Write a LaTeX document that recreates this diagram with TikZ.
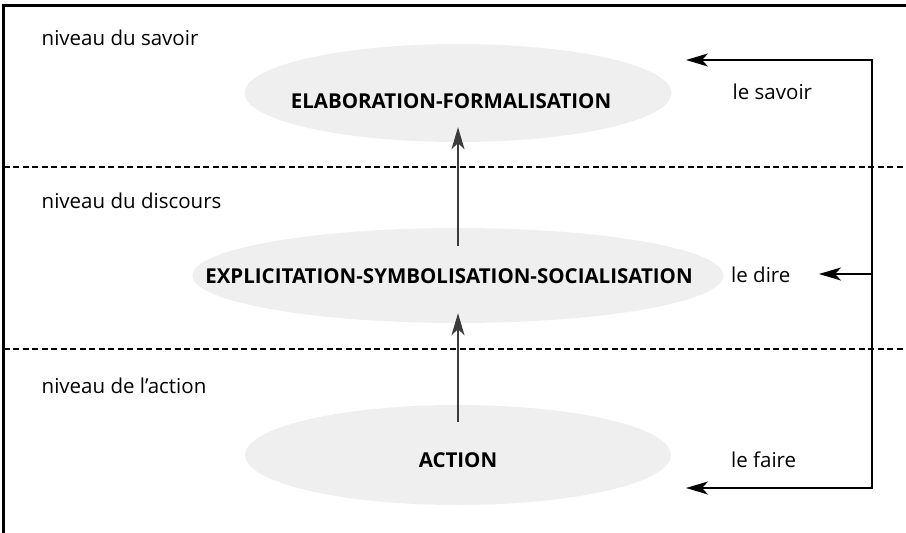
\documentclass[tikz,border=0pt]{standalone}
\usepackage{fontspec}
\setmainfont{Open Sans}
\usetikzlibrary{arrows.meta,shapes.geometric}
\definecolor{blobgray}{RGB}{239,239,239}
\definecolor{flowgray}{RGB}{60,60,60}
\tikzset{
  >={Stealth[length=22pt,width=13pt,inset=6pt]},
  blob/.style={ellipse,fill=blobgray,inner sep=0pt},
  title/.style={font=\fontsize{20.5}{24}\selectfont\bfseries},
  level/.style={font=\fontsize{20.5}{24}\selectfont,anchor=base west,inner sep=0pt},
  flow/.style={->,line width=1.4pt,flowgray},
  link/.style={line width=2pt},
  sep/.style={dash pattern=on 6pt off 3.5pt,line width=1.2pt},
}

\begin{document}
\begin{tikzpicture}[x=1pt,y=-1pt]
    \useasboundingbox (0,0) rectangle (906,533);
    % frame and level separators
    \draw[line width=2.2pt] (3.5,533) -- (3.5,5.5) -- (906,5.5);
    \draw[sep] (3.5,167) -- (906,167);
    \draw[sep] (3.5,349) -- (906,349);
    % ellipses
    \node[blob,minimum width=427pt,minimum height=98pt] (elab) at (458,93) {};
    \node[blob,minimum width=531pt,minimum height=95pt] (expl) at (458,275.5) {};
    \node[blob,minimum width=426pt,minimum height=100pt] (act) at (458,455) {};
    \node[title] (elabtext) at (451,101) {ELABORATION-FORMALISATION};
    \node[title] (expltext) at (449,276) {EXPLICITATION-SYMBOLISATION-SOCIALISATION};
    \node[title] (acttext) at (458,460) {ACTION};
    % levels
    \node[level] (lvsavoir) at (41.5,45) {niveau du savoir};
    \node[level] (lvdiscours) at (41.5,208) {niveau du discours};
    \node[level] (lvaction) at (41.5,393) {niveau de l’action};
    \node[level] (savoir) at (732.5,99) {le savoir};
    \node[level] (dire) at (731,282) {le dire};
    \node[level] (faire) at (731,467) {le faire};
    % upward flow
    \draw[flow] ([yshift=-17pt]act.north) -- ([yshift=10pt]expl.south);
    \draw[flow] ([yshift=-18pt]expl.north) -- ([yshift=15pt]elab.south);
    % feedback
    \coordinate (tipsavoir) at (686,60);
    \coordinate (tipdire) at (819,274);
    \coordinate (tipfaire) at (686,488);
    \coordinate (spinetop) at (872,60);
    \coordinate (spinemid) at (872,274);
    \coordinate (spinebot) at (872,488);
    \draw[link,<->] (tipsavoir) -- (spinetop) -- (spinebot) -- (tipfaire);
    \draw[link,->] (spinemid) -- (tipdire);
\end{tikzpicture}
\end{document}
